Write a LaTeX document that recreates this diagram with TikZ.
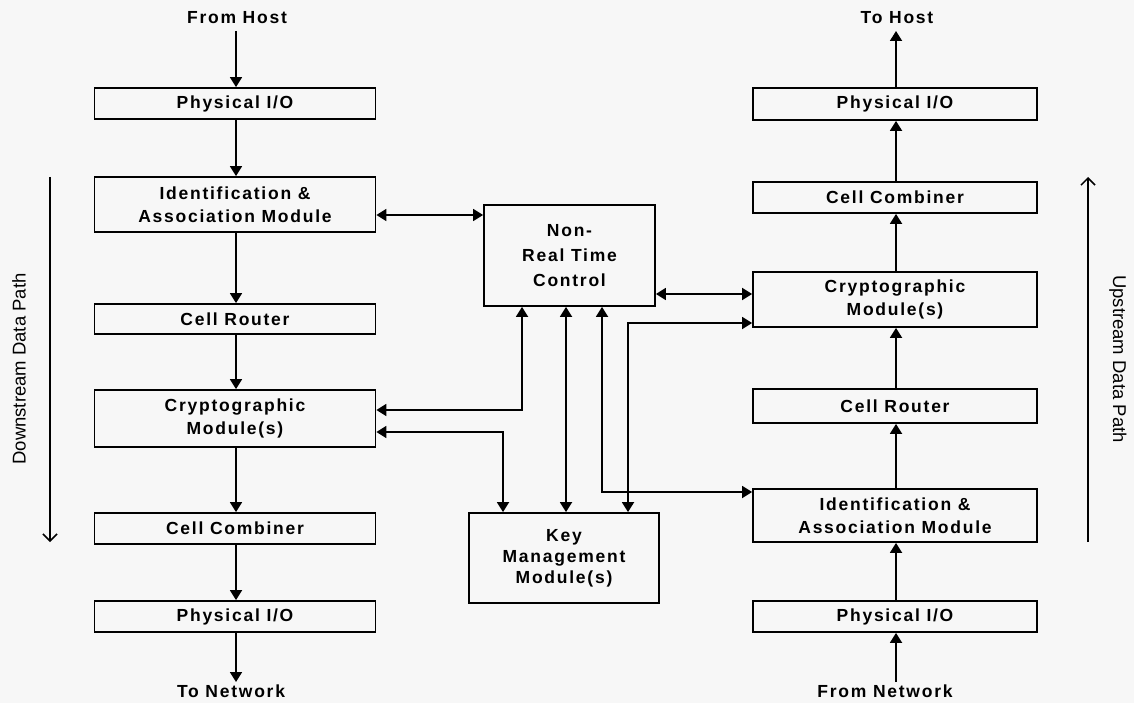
\documentclass[tikz,border=0pt]{standalone}
\usepackage{fontspec}
\setmainfont{Liberation Sans}
\newfontfamily\lblfont[LetterSpace=10]{Liberation Sans}
\usetikzlibrary{arrows.meta}
\definecolor{bg}{RGB}{247,247,247}
\tikzset{
  box/.style={draw, line width=1.8pt, inner sep=0pt, align=center,
    font=\lblfont\bfseries\fontsize{17.5}{23}\selectfont},
  lbl/.style={inner sep=0pt, font=\lblfont\bfseries\fontsize{17.5}{23}\selectfont},
  flow/.style={line width=1.8pt, -{Triangle[length=10pt,width=12pt]}},
  dbl/.style={line width=1.8pt, {Triangle[length=10pt,width=12pt]}-{Triangle[length=10pt,width=12pt]}},
  side/.style={line width=1.5pt, -{Straight Barb[length=7pt,width=14pt,line width=1.5pt]}},
  sidelbl/.style={inner sep=0pt, font=\fontsize{18.5}{22}\selectfont}
}
\begin{document}
\begin{tikzpicture}[x=1pt,y=-1pt]
\fill[bg] (0,0) rectangle (1134,703);
\useasboundingbox (0,0) rectangle (1134,703);

% left column
\node[box, minimum width=281pt, minimum height=31pt] (lphy) at (235,103.5) {Physical I/O};
\node[box, minimum width=281pt, minimum height=55pt] (lid) at (235,204.5) {Identification \&\\Association Module};
\node[box, minimum width=281pt, minimum height=30pt] (lcr) at (235,319) {Cell Router};
\node[box, minimum width=281pt, minimum height=57pt] (lcm) at (235,418.5) {Cryptographic\\Module(s)};
\node[box, minimum width=281pt, minimum height=31pt] (lcc) at (235,528.5) {Cell Combiner};
\node[box, minimum width=281pt, minimum height=31pt] (lphy2) at (235,616.5) {Physical I/O};

% right column
\node[box, minimum width=284pt, minimum height=32pt] (rphy) at (895,104) {Physical I/O};
\node[box, minimum width=284pt, minimum height=31pt] (rcc) at (895,197.5) {Cell Combiner};
\node[box, minimum width=284pt, minimum height=55pt] (rcm) at (895,299.5) {Cryptographic\\Module(s)};
\node[box, minimum width=284pt, minimum height=34pt] (rcr) at (895,406) {Cell Router};
\node[box, minimum width=284pt, minimum height=53pt] (rid) at (895,515.5) {Identification \&\\Association Module};
\node[box, minimum width=284pt, minimum height=31pt] (rphy2) at (895,616.5) {Physical I/O};

% centre
\node[box, minimum width=171pt, minimum height=101pt, font=\lblfont\bfseries\fontsize{17.5}{25}\selectfont] (nrt) at (569.5,255.5) {Non-\\Real Time\\Control};
\node[box, minimum width=190pt, minimum height=90pt, font=\lblfont\bfseries\fontsize{17.5}{21}\selectfont] (km) at (564,558) {Key\\Management\\Module(s)};

% end labels
\node[lbl] (fhost) at (237,18) {From Host};
\node[lbl] (tnet) at (231,691) {To Network};
\node[lbl] (thost) at (897,18) {To Host};
\node[lbl] (fnet) at (885,691) {From Network};
\coordinate (fhostend) at (236,31);
\coordinate (tnetend) at (236,682);
\coordinate (thostend) at (896,31);
\coordinate (fnetend) at (896,682);

% downstream flow
\draw[flow] (fhostend) -- (lphy.north -| fhostend);
\draw[flow] (lphy.south -| fhostend) -- (lid.north -| fhostend);
\draw[flow] (lid.south -| fhostend) -- (lcr.north -| fhostend);
\draw[flow] (lcr.south -| fhostend) -- (lcm.north -| fhostend);
\draw[flow] (lcm.south -| fhostend) -- (lcc.north -| fhostend);
\draw[flow] (lcc.south -| fhostend) -- (lphy2.north -| fhostend);
\draw[flow] (lphy2.south -| fhostend) -- (tnetend);

% upstream flow
\draw[flow] (fnetend) -- (rphy2.south -| fnetend);
\draw[flow] (rphy2.north -| fnetend) -- (rid.south -| fnetend);
\draw[flow] (rid.north -| fnetend) -- (rcr.south -| fnetend);
\draw[flow] (rcr.north -| fnetend) -- (rcm.south -| fnetend);
\draw[flow] (rcm.north -| fnetend) -- (rcc.south -| fnetend);
\draw[flow] (rcc.north -| fnetend) -- (rphy.south -| fnetend);
\draw[flow] (rphy.north -| fnetend) -- (thostend);

% control connectors
\draw[dbl] (lid.east |- 0,215) -- (nrt.west |- 0,215);
\draw[dbl] (nrt.east |- 0,294) -- (rcm.west |- 0,294);
\draw[dbl] (nrt.south -| 522,0) -- (522,410) -- (lcm.east |- 0,410);
\draw[dbl] (lcm.east |- 0,432) -- (503,432) -- (km.north -| 503,0);
\draw[dbl] (nrt.south -| 566,0) -- (km.north -| 566,0);
\draw[dbl] (nrt.south -| 602,0) -- (602,492) -- (rid.west |- 0,492);
\draw[dbl] (rcm.west |- 0,323) -- (628,323) -- (km.north -| 628,0);

% side arrows
\coordinate (dsa) at (50,177);
\coordinate (dsb) at (50,542);
\coordinate (usa) at (1088,542);
\coordinate (usb) at (1088,177);
\draw[side] (dsa) -- (dsb);
\draw[side] (usa) -- (usb);
\node[sidelbl, rotate=90] (dlbl) at (19,369) {Downstream Data Path};
\node[sidelbl, rotate=-90] (ulbl) at (1118,359) {Upstream Data Path};
\end{tikzpicture}
\end{document}
